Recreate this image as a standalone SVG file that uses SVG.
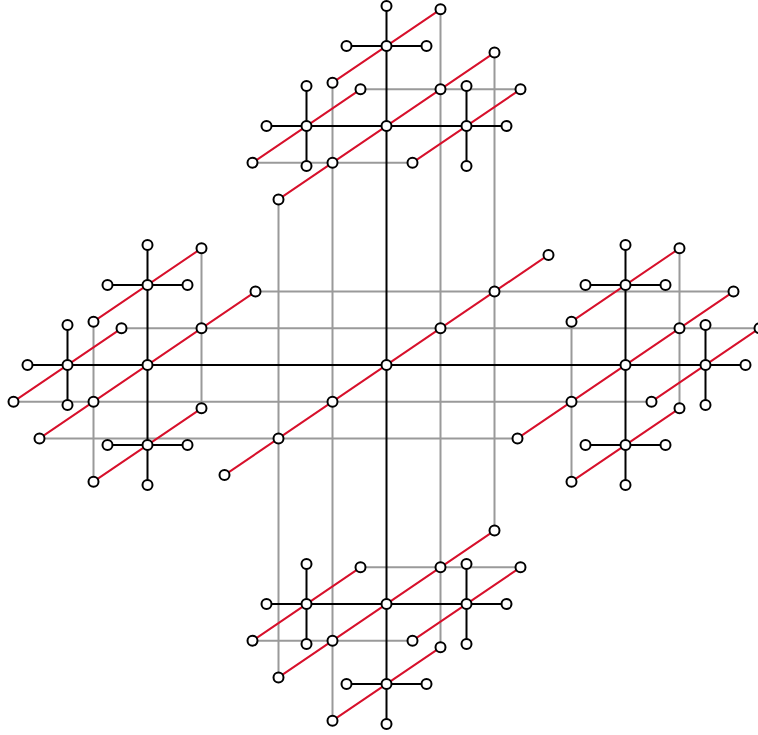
<svg xmlns="http://www.w3.org/2000/svg" width="758" height="735" viewBox="0 0 758 735">
<style>
.g{stroke:#9a9a9a;stroke-width:2;fill:none}
.k{stroke:#000;stroke-width:2;fill:none}
.r{stroke:#d7102b;stroke-width:2;fill:none}
.n circle{fill:#fff;stroke:#000;stroke-width:2}
</style>
<rect width="758" height="735" fill="#fff"/>
<g id="connectors">
<g id="gray-links" class="g">
<path d="M360.5,89.3H520.5M252.5,162.7H412.5M360.5,567.3H520.5M252.5,640.7H412.5"/>
<path d="M201.5,248.3V408.3M93.5,321.7V481.7M679.5,248.3V408.3M571.5,321.7V481.7"/>
<path d="M121.5,328.3H759.5M13.5,401.7H651.5M255.5,291.6H733.5M39.5,438.4H517.5"/>
<path d="M440.5,9.3V647.3M332.5,82.7V720.7M494.5,52.6V530.6M278.5,199.4V677.4"/>
</g>
<g id="black-links" class="k">
<path d="M386.5,6V724M27.5,365H745.5"/>
<path d="M266.5,126H506.5M306.5,86V166M466.5,86V166M346.5,46H426.5"/>
<path d="M266.5,604H506.5M306.5,564V644M466.5,564V644M346.5,684H426.5"/>
<path d="M147.5,245V485M107.5,285H187.5M107.5,445H187.5M67.5,325V405"/>
<path d="M625.5,245V485M585.5,285H665.5M585.5,445H665.5M705.5,325V405"/>
</g>
<g id="red-links" class="r">
<path d="M224.5,475.1L548.5,254.9"/>
<path d="M278.5,199.4L494.5,52.6M252.5,162.7L360.5,89.3M412.5,162.7L520.5,89.3M332.5,82.7L440.5,9.3"/>
<path d="M278.5,677.4L494.5,530.6M252.5,640.7L360.5,567.3M412.5,640.7L520.5,567.3M332.5,720.7L440.5,647.3"/>
<path d="M39.5,438.4L255.5,291.6M93.5,321.7L201.5,248.3M93.5,481.7L201.5,408.3M13.5,401.7L121.5,328.3"/>
<path d="M517.5,438.4L733.5,291.6M571.5,321.7L679.5,248.3M571.5,481.7L679.5,408.3M651.5,401.7L759.5,328.3"/>
</g>
</g>
<g id="nodes" class="n">
<g id="c0"><circle cx="386.5" cy="365" r="5"/></g>
<g id="c1"><circle cx="440.5" cy="328.3" r="5"/></g>
<g id="c2"><circle cx="494.5" cy="291.6" r="5"/></g>
<g id="c3"><circle cx="548.5" cy="254.9" r="5"/></g>
<g id="c4"><circle cx="332.5" cy="401.7" r="5"/></g>
<g id="c5"><circle cx="278.5" cy="438.4" r="5"/></g>
<g id="c6"><circle cx="224.5" cy="475.1" r="5"/></g>

<g id="t1"><circle cx="386.5" cy="6" r="5"/></g>
<g id="t2"><circle cx="346.5" cy="46" r="5"/></g>
<g id="t3"><circle cx="386.5" cy="46" r="5"/></g>
<g id="t4"><circle cx="426.5" cy="46" r="5"/></g>
<g id="t5"><circle cx="332.5" cy="82.7" r="5"/></g>
<g id="t6"><circle cx="440.5" cy="9.3" r="5"/></g>
<g id="t7"><circle cx="266.5" cy="126" r="5"/></g>
<g id="t8"><circle cx="306.5" cy="126" r="5"/></g>
<g id="t9"><circle cx="386.5" cy="126" r="5"/></g>
<g id="t10"><circle cx="466.5" cy="126" r="5"/></g>
<g id="t11"><circle cx="506.5" cy="126" r="5"/></g>
<g id="t12"><circle cx="306.5" cy="86" r="5"/></g>
<g id="t13"><circle cx="306.5" cy="166" r="5"/></g>
<g id="t14"><circle cx="466.5" cy="86" r="5"/></g>
<g id="t15"><circle cx="466.5" cy="166" r="5"/></g>
<g id="t16"><circle cx="252.5" cy="162.7" r="5"/></g>
<g id="t17"><circle cx="360.5" cy="89.3" r="5"/></g>
<g id="t18"><circle cx="412.5" cy="162.7" r="5"/></g>
<g id="t19"><circle cx="520.5" cy="89.3" r="5"/></g>
<g id="t20"><circle cx="278.5" cy="199.4" r="5"/></g>
<g id="t21"><circle cx="332.5" cy="162.7" r="5"/></g>
<g id="t22"><circle cx="440.5" cy="89.3" r="5"/></g>
<g id="t23"><circle cx="494.5" cy="52.6" r="5"/></g>

<g id="b1"><circle cx="386.5" cy="724" r="5"/></g>
<g id="b2"><circle cx="346.5" cy="684" r="5"/></g>
<g id="b3"><circle cx="386.5" cy="684" r="5"/></g>
<g id="b4"><circle cx="426.5" cy="684" r="5"/></g>
<g id="b5"><circle cx="332.5" cy="720.7" r="5"/></g>
<g id="b6"><circle cx="440.5" cy="647.3" r="5"/></g>
<g id="b7"><circle cx="266.5" cy="604" r="5"/></g>
<g id="b8"><circle cx="306.5" cy="604" r="5"/></g>
<g id="b9"><circle cx="386.5" cy="604" r="5"/></g>
<g id="b10"><circle cx="466.5" cy="604" r="5"/></g>
<g id="b11"><circle cx="506.5" cy="604" r="5"/></g>
<g id="b12"><circle cx="306.5" cy="564" r="5"/></g>
<g id="b13"><circle cx="306.5" cy="644" r="5"/></g>
<g id="b14"><circle cx="466.5" cy="564" r="5"/></g>
<g id="b15"><circle cx="466.5" cy="644" r="5"/></g>
<g id="b16"><circle cx="252.5" cy="640.7" r="5"/></g>
<g id="b17"><circle cx="360.5" cy="567.3" r="5"/></g>
<g id="b18"><circle cx="412.5" cy="640.7" r="5"/></g>
<g id="b19"><circle cx="520.5" cy="567.3" r="5"/></g>
<g id="b20"><circle cx="278.5" cy="677.4" r="5"/></g>
<g id="b21"><circle cx="332.5" cy="640.7" r="5"/></g>
<g id="b22"><circle cx="440.5" cy="567.3" r="5"/></g>
<g id="b23"><circle cx="494.5" cy="530.6" r="5"/></g>

<g id="l1"><circle cx="27.5" cy="365" r="5"/></g>
<g id="l2"><circle cx="67.5" cy="325" r="5"/></g>
<g id="l3"><circle cx="67.5" cy="365" r="5"/></g>
<g id="l4"><circle cx="67.5" cy="405" r="5"/></g>
<g id="l5"><circle cx="13.5" cy="401.7" r="5"/></g>
<g id="l6"><circle cx="121.5" cy="328.3" r="5"/></g>
<g id="l7"><circle cx="147.5" cy="245" r="5"/></g>
<g id="l8"><circle cx="147.5" cy="285" r="5"/></g>
<g id="l9"><circle cx="147.5" cy="365" r="5"/></g>
<g id="l10"><circle cx="147.5" cy="445" r="5"/></g>
<g id="l11"><circle cx="147.5" cy="485" r="5"/></g>
<g id="l12"><circle cx="107.5" cy="285" r="5"/></g>
<g id="l13"><circle cx="187.5" cy="285" r="5"/></g>
<g id="l14"><circle cx="107.5" cy="445" r="5"/></g>
<g id="l15"><circle cx="187.5" cy="445" r="5"/></g>
<g id="l16"><circle cx="93.5" cy="321.7" r="5"/></g>
<g id="l17"><circle cx="201.5" cy="248.3" r="5"/></g>
<g id="l18"><circle cx="93.5" cy="481.7" r="5"/></g>
<g id="l19"><circle cx="201.5" cy="408.3" r="5"/></g>
<g id="l20"><circle cx="39.5" cy="438.4" r="5"/></g>
<g id="l21"><circle cx="93.5" cy="401.7" r="5"/></g>
<g id="l22"><circle cx="201.5" cy="328.3" r="5"/></g>
<g id="l23"><circle cx="255.5" cy="291.6" r="5"/></g>

<g id="r1"><circle cx="745.5" cy="365" r="5"/></g>
<g id="r2"><circle cx="705.5" cy="325" r="5"/></g>
<g id="r3"><circle cx="705.5" cy="365" r="5"/></g>
<g id="r4"><circle cx="705.5" cy="405" r="5"/></g>
<g id="r5"><circle cx="651.5" cy="401.7" r="5"/></g>
<g id="r6"><circle cx="759.5" cy="328.3" r="5"/></g>
<g id="r7"><circle cx="625.5" cy="245" r="5"/></g>
<g id="r8"><circle cx="625.5" cy="285" r="5"/></g>
<g id="r9"><circle cx="625.5" cy="365" r="5"/></g>
<g id="r10"><circle cx="625.5" cy="445" r="5"/></g>
<g id="r11"><circle cx="625.5" cy="485" r="5"/></g>
<g id="r12"><circle cx="585.5" cy="285" r="5"/></g>
<g id="r13"><circle cx="665.5" cy="285" r="5"/></g>
<g id="r14"><circle cx="585.5" cy="445" r="5"/></g>
<g id="r15"><circle cx="665.5" cy="445" r="5"/></g>
<g id="r16"><circle cx="571.5" cy="321.7" r="5"/></g>
<g id="r17"><circle cx="679.5" cy="248.3" r="5"/></g>
<g id="r18"><circle cx="571.5" cy="481.7" r="5"/></g>
<g id="r19"><circle cx="679.5" cy="408.3" r="5"/></g>
<g id="r20"><circle cx="517.5" cy="438.4" r="5"/></g>
<g id="r21"><circle cx="571.5" cy="401.7" r="5"/></g>
<g id="r22"><circle cx="679.5" cy="328.3" r="5"/></g>
<g id="r23"><circle cx="733.5" cy="291.6" r="5"/></g>
</g>
</svg>
